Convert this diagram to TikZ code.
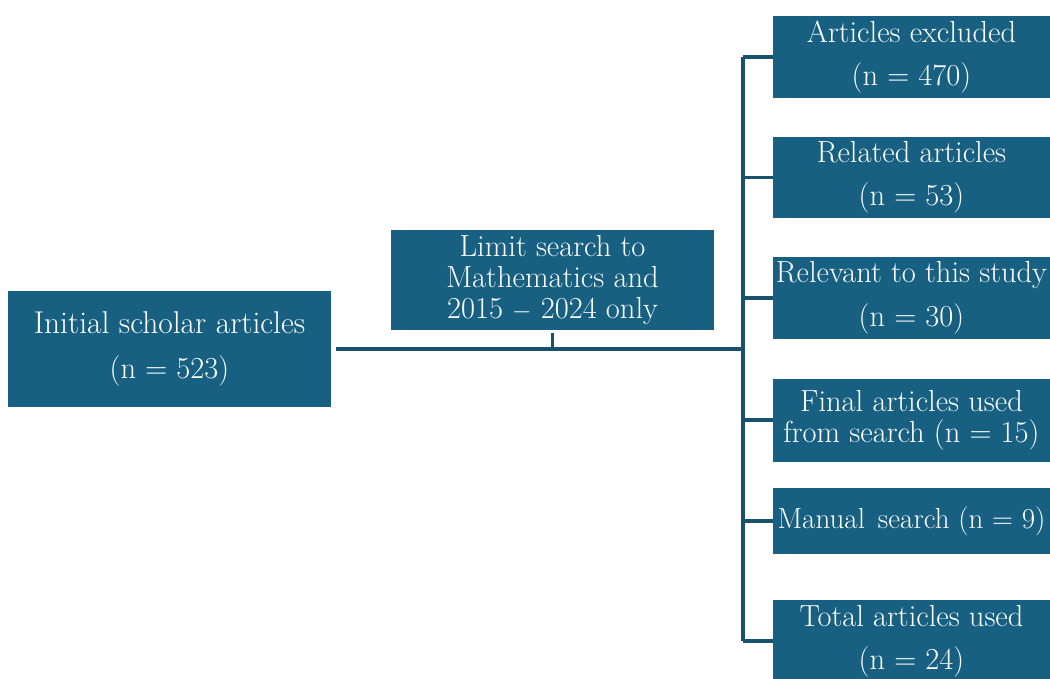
\documentclass[tikz,border=0pt]{standalone}
\usepackage{tikz}
\usetikzlibrary{positioning,calc}
\definecolor{boxblue}{RGB}{24,96,129}
\definecolor{linkblue}{RGB}{24,82,108}

\begin{document}
\begin{tikzpicture}[
		x=1pt, y=-1pt,
		box/.style={rectangle, fill=boxblue, text=white, inner sep=0pt, align=center,
				font=\fontsize{30.5}{31}\selectfont},
		sidebox/.style={box, minimum width=277pt, minimum height=82pt},
		conn/.style={line width=3.2pt, linkblue},
		]
		\useasboundingbox (0,0) rectangle (1050,679);

		% Nodes
		\node[box, minimum width=323pt, minimum height=116pt] (init) at (169.5,349) {\fontsize{31.5}{31}\selectfont Initial scholar articles\\[14pt](n = 523)};
		\node[box, minimum width=323pt, minimum height=100pt] (limit) at (552.5,280) {Limit search to\\Mathematics and\\2015 $-$ 2024 only};
		\node[sidebox] (excl) at (911.5,57) {Articles excluded\\[12pt](n = 470)};
		\node[sidebox, minimum height=81pt] (related) at (911.5,177.5) {Related articles\\[12pt](n = 53)};
		\node[sidebox] (relevant) at (911.5,298) {Relevant to this study\\[13pt](n = 30)};
		\node[sidebox, minimum height=83pt] (final) at (911.5,420) {Final articles used\\from search (n = 15)};
		\node[sidebox, minimum height=66pt, font=\fontsize{29}{31}\selectfont] (manual) at (911.5,521) {Manual\hspace{0.45em}search (n = 9)};
		\node[sidebox] (total) at (911.5,641) {Total articles used\\[12pt](n = 24)};
		\coordinate (hub) at (743,349);

		% Connectors
		\draw[conn, shorten <=5pt] (init.east) -- (hub);
		\draw[conn, shorten <=3pt] (limit.south) -- (limit.south |- hub);
		\draw[conn] (hub |- excl.west) -- (hub |- total.west);
		\foreach \b in {excl,related,relevant,final,manual,total}
			\draw[conn] (hub |- \b.west) -- (\b.west);
	\end{tikzpicture}
\end{document}
